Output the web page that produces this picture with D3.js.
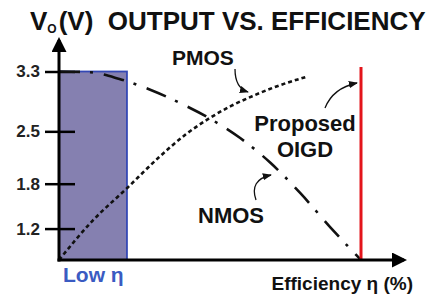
<!DOCTYPE html>
<html>
<head>
<meta charset="utf-8">
<script src="https://cdn.jsdelivr.net/npm/d3@7"></script>
<style>
  body { margin: 0; background: #fff; }
  svg { display: block; font-family: "Liberation Sans", Arial, sans-serif; font-weight: bold; }
</style>
</head>
<body>
<div id="chart"></div>
<script>
// chart values
const yTicks = [1.2, 1.8, 2.5, 3.3];
const nmosEff = [0, 10, 20, 30, 40, 50, 60, 70, 80, 90, 100];
const nmosVo = [3.3, 3.29, 3.2, 3.06, 2.88, 2.67, 2.41, 2.08, 1.67, 1.21, 0.78];
const pmosEff = [0, 11, 22.5, 33, 42, 50, 57, 64, 72, 82];
const pmosVo = [0.78, 1.30, 1.74, 2.15, 2.46, 2.68, 2.84, 2.97, 3.10, 3.23];
const lowEff = [0, 22.5];
const lowVo = [0.78, 3.3];
const oigdEff = 100;
const oigdVo = [0.78, 3.36];

const W = 427, H = 297;
const svg = d3.select("#chart").append("svg")
  .attr("width", W)
  .attr("height", H);

const x = d3.scaleLinear().domain([0, 100]).range([59, 361]);
const y = d3.scaleLinear().domain([0.78, 3.3]).range([260, 71.5]);

const defs = svg.append("defs");
defs.append("marker")
  .attr("id", "axArrow")
  .attr("viewBox", "0 0 10 10")
  .attr("refX", 8).attr("refY", 5)
  .attr("markerWidth", 5).attr("markerHeight", 5)
  .attr("markerUnits", "strokeWidth")
  .attr("orient", "auto")
  .append("path").attr("d", "M0,0 L10,5 L0,10 Z").attr("fill", "#000");
defs.append("marker")
  .attr("id", "noteArrow")
  .attr("viewBox", "0 0 10 10")
  .attr("refX", 9).attr("refY", 5)
  .attr("markerWidth", 7).attr("markerHeight", 7)
  .attr("markerUnits", "strokeWidth")
  .attr("orient", "auto")
  .append("path").attr("d", "M0,1 L10,5 L0,9 Z").attr("fill", "#111");

// low efficiency band
svg.append("rect")
  .attr("x", x(lowEff[0]))
  .attr("y", y(lowVo[1]))
  .attr("width", x(lowEff[1]) - x(lowEff[0]))
  .attr("height", y(lowVo[0]) - y(lowVo[1]))
  .attr("fill", "#8580b0")
  .attr("stroke", "#3448b4")
  .attr("stroke-width", 1.8);

// y ticks
const yAxis = svg.append("g")
  .attr("transform", "translate(75,0)")
  .call(d3.axisLeft(y).tickValues(yTicks).tickFormat(d3.format(".1f")).tickSize(30).tickPadding(5).tickSizeOuter(0));
yAxis.select(".domain").remove();
yAxis.selectAll(".tick line").attr("stroke", "#000").attr("stroke-width", 2.5);
yAxis.selectAll(".tick text")
  .attr("fill", "#222")
  .style("font-size", "17px")
  .style("font-weight", "bold")
  .style("font-family", "'Liberation Sans', Arial, sans-serif");

// curves
const line = d3.line().x(d => x(d[0])).y(d => y(d[1])).curve(d3.curveMonotoneX);

svg.append("path")
  .datum(nmosEff.map((e, i) => [e, nmosVo[i]]))
  .attr("d", line)
  .attr("fill", "none")
  .attr("stroke", "#111")
  .attr("stroke-width", 2.6)
  .attr("stroke-dasharray", "21,10,3,11");

svg.append("path")
  .datum(pmosEff.map((e, i) => [e, pmosVo[i]]))
  .attr("d", line)
  .attr("fill", "none")
  .attr("stroke", "#111")
  .attr("stroke-width", 2.6)
  .attr("stroke-dasharray", "4,3");

// proposed OIGD
svg.append("line")
  .attr("x1", x(oigdEff)).attr("x2", x(oigdEff))
  .attr("y1", y(oigdVo[0])).attr("y2", y(oigdVo[1]))
  .attr("stroke", "#e3141b")
  .attr("stroke-width", 3);

// axes with arrows
svg.append("line")
  .attr("x1", x(0)).attr("y1", y(0.78) + 1.5)
  .attr("x2", x(0)).attr("y2", 40)
  .attr("stroke", "#000").attr("stroke-width", 3)
  .attr("marker-end", "url(#axArrow)");
svg.append("line")
  .attr("x1", x(0) - 1.5).attr("y1", y(0.78))
  .attr("x2", 404).attr("y2", y(0.78))
  .attr("stroke", "#000").attr("stroke-width", 3)
  .attr("marker-end", "url(#axArrow)");

// annotation arrows
const notes = [
  "M235,69 Q235,88 248,92",
  "M325,108 Q333,88 357,83",
  "M256,200 Q249,180 271,175"
];
svg.selectAll(".note")
  .data(notes)
  .enter().append("path")
  .attr("class", "note")
  .attr("d", d => d)
  .attr("fill", "none")
  .attr("stroke", "#111")
  .attr("stroke-width", 1.3)
  .attr("marker-end", "url(#noteArrow)");

// texts
const title = svg.append("text").attr("x", 30).attr("y", 30)
  .attr("fill", "#111").style("font-size", "26px").style("white-space", "pre");
title.append("tspan").text("V");
title.append("tspan").attr("dy", 3).style("font-size", "12px").text("O");
title.append("tspan").attr("dx", 2).attr("dy", -3).text("(V)  OUTPUT VS. EFFICIENCY");

svg.append("text").attr("x", 172).attr("y", 65)
  .attr("fill", "#111").style("font-size", "21px").text("PMOS");
svg.append("text").attr("x", 305).attr("y", 131).attr("text-anchor", "middle")
  .attr("fill", "#111").style("font-size", "22px").text("Proposed");
svg.append("text").attr("x", 305).attr("y", 157).attr("text-anchor", "middle")
  .attr("fill", "#111").style("font-size", "22px").text("OIGD");
svg.append("text").attr("x", 198).attr("y", 223)
  .attr("fill", "#111").style("font-size", "22px").text("NMOS");
svg.append("text").attr("x", 63).attr("y", 282)
  .attr("fill", "#3a5bc2").style("font-size", "21px").text("Low η");
svg.append("text").attr("x", 413).attr("y", 290).attr("text-anchor", "end")
  .attr("fill", "#111").style("font-size", "19px").text("Efficiency η (%)");
</script>
</body>
</html>
